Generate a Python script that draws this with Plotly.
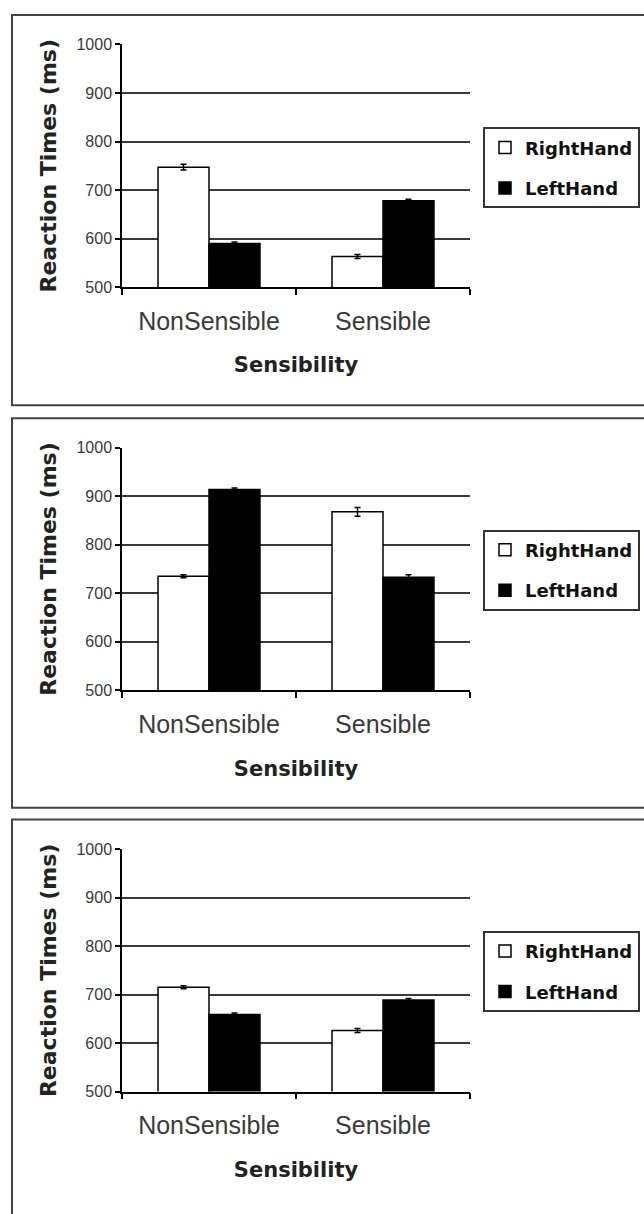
import plotly.graph_objects as go

# Reaction-time means (ms) and their error margins for three experiments
categories = ["NonSensible", "Sensible"]
hands = ["RightHand", "LeftHand"]

exp1_right = [747, 563]
exp1_left = [590, 678]
exp1_right_err = [6, 4]
exp1_left_err = [3, 3]

exp2_right = [735, 868]
exp2_left = [914, 733]
exp2_right_err = [3, 9]
exp2_left_err = [3, 5]

exp3_right = [715, 626]
exp3_left = [659, 689]
exp3_right_err = [3, 4]
exp3_left_err = [3, 3]

y_ticks = [500, 600, 700, 800, 900, 1000]

W, H = 644, 1214
FONT = "Liberation Sans, Arial, sans-serif"
BOLD_FONT = "DejaVu Sans, Liberation Sans, sans-serif"


def px_x(p):
    return p / W


def px_y(p):
    return 1 - p / H


panels = [
    dict(right=exp1_right, left=exp1_left, rerr=exp1_right_err, lerr=exp1_left_err,
         top=37, bottom=283, frame=(7, 403), legend_top=121),
    dict(right=exp2_right, left=exp2_left, rerr=exp2_right_err, lerr=exp2_left_err,
         top=446, bottom=692, frame=(416, 811), legend_top=529),
    dict(right=exp3_right, left=exp3_left, rerr=exp3_right_err, lerr=exp3_left_err,
         top=853, bottom=1099, frame=(823, 1230), legend_top=936),
]

fig = go.Figure()
shapes = []
layout = {}

for i, p in enumerate(panels, start=1):
    sfx = "" if i == 1 else str(i)
    leg = "legend" if i == 1 else f"legend{i}"
    xa, ya = f"x{sfx}", f"y{sfx}"

    fig.add_trace(go.Bar(
        x=categories, y=p["right"], name=hands[0],
        marker=dict(color="white", line=dict(color="black", width=1.5)),
        error_y=dict(type="data", array=p["rerr"], color="black", thickness=1.5, width=3),
        xaxis=xa, yaxis=ya, legend=leg, legendgroup=f"r{i}",
    ))
    fig.add_trace(go.Bar(
        x=categories, y=p["left"], name=hands[1],
        marker=dict(color="black", line=dict(color="black", width=1.5)),
        error_y=dict(type="data", array=p["lerr"], color="black", thickness=1.5, width=3),
        xaxis=xa, yaxis=ya, legend=leg, legendgroup=f"l{i}",
    ))

    layout[f"xaxis{sfx}"] = dict(
        domain=[px_x(122), px_x(470)], anchor=ya,
        showline=True, linecolor="black", linewidth=1.5,
        ticks="outside", ticklen=6, tickwidth=1.5, tickcolor="black",
        tickson="boundaries", showgrid=False,
        tickfont=dict(family=FONT, size=25, color="#3a3a3a"),
        ticklabelstandoff=11,
        title=dict(text="Sensibility", standoff=24,
                   font=dict(family=BOLD_FONT, size=21, color="#222", weight="bold")),
    )
    layout[f"yaxis{sfx}"] = dict(
        domain=[px_y(p["bottom"]), px_y(p["top"])], anchor=xa,
        range=[500, 1000], tickvals=y_ticks,
        showline=True, linecolor="black", linewidth=1.5,
        ticks="outside", ticklen=5, tickwidth=1.5, tickcolor="black",
        showgrid=True, gridcolor="#3a3a3a", gridwidth=1.5,
        zeroline=False,
        tickfont=dict(family=FONT, size=16, color="#3a3a3a"),
        title=dict(text="Reaction Times (ms)", standoff=14,
                   font=dict(family=BOLD_FONT, size=22, color="#222", weight="bold")),
    )
    layout[leg] = dict(
        x=px_x(483), y=px_y(p["legend_top"]), xanchor="left", yanchor="top",
        bgcolor="white", bordercolor="#333", borderwidth=2,
        font=dict(family=BOLD_FONT, size=18, color="#111", weight="bold"),
        traceorder="grouped", tracegroupgap=14, itemwidth=30,
    )

    f0, f1 = p["frame"]
    shapes.append(dict(type="rect", xref="paper", yref="paper",
                       x0=px_x(12), x1=px_x(660), y0=px_y(f1), y1=px_y(f0),
                       line=dict(color="#444", width=2), fillcolor="rgba(0,0,0,0)",
                       layer="below"))

fig.update_layout(
    width=W, height=H,
    margin=dict(l=0, r=0, t=0, b=0),
    paper_bgcolor="white", plot_bgcolor="white",
    barmode="group", bargap=0.414, bargroupgap=0,
    showlegend=True,
    shapes=shapes,
    font=dict(family=FONT),
    **layout,
)

fig.write_html("out.html")
